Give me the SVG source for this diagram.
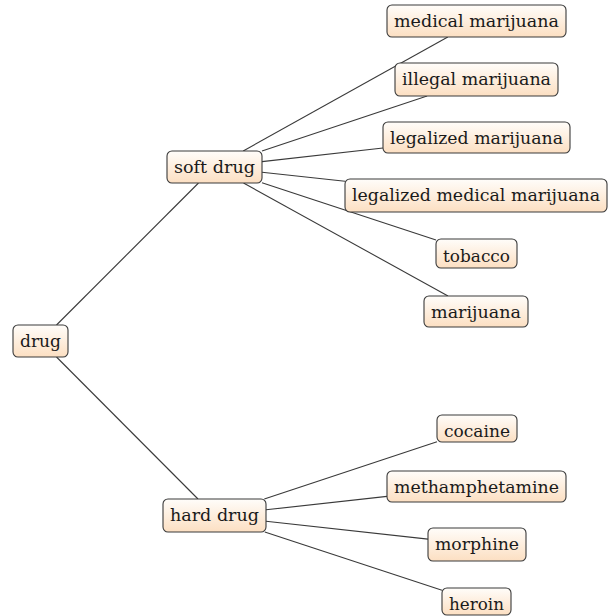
<svg xmlns="http://www.w3.org/2000/svg" width="609" height="616" viewBox="0 0 609 616">
<defs>
<linearGradient id="g" x1="0" y1="0" x2="0" y2="1">
<stop offset="0" stop-color="#fffdfa"/>
<stop offset="1" stop-color="#fcdfc2"/>
</linearGradient>
</defs>
<style>
.n rect{fill:url(#g);stroke:#3a3a3a;stroke-width:1.1}
.n text{font-family:'DejaVu Serif','Liberation Serif',serif;font-size:17.5px;fill:#1a1a1a;text-anchor:middle}
#edges line{stroke:#3a3a3a;stroke-width:1.1}
</style>
<rect width="609" height="616" fill="#ffffff"/>
<g id="edges">
<line x1="56.5" y1="325" x2="198.5" y2="183"/>
<line x1="56.5" y1="357" x2="198" y2="499"/>
<line x1="243.2" y1="151" x2="447.8" y2="37"/>
<line x1="262" y1="151.1" x2="427.1" y2="96"/>
<line x1="262" y1="161.6" x2="383" y2="148"/>
<line x1="262" y1="172.2" x2="345" y2="181.2"/>
<line x1="262" y1="182.7" x2="436" y2="240.1"/>
<line x1="243.5" y1="183" x2="448" y2="296"/>
<line x1="264.3" y1="499" x2="437" y2="441.8"/>
<line x1="266" y1="509.8" x2="387" y2="496.4"/>
<line x1="266" y1="521.2" x2="428" y2="539.1"/>
<line x1="264.8" y1="532" x2="442" y2="590.2"/>
</g>
<g id="drug" class="n"><rect x="13" y="325" width="55" height="32" rx="5"/><text x="40.5" y="347" textLength="41" lengthAdjust="spacingAndGlyphs">drug</text></g>
<g id="soft-drug" class="n"><rect x="167" y="151" width="95" height="32" rx="5"/><text x="214.5" y="173" textLength="81" lengthAdjust="spacingAndGlyphs">soft drug</text></g>
<g id="hard-drug" class="n"><rect x="163" y="499" width="103" height="33" rx="5"/><text x="214.5" y="521" textLength="89" lengthAdjust="spacingAndGlyphs">hard drug</text></g>
<g id="medical-marijuana" class="n"><rect x="387" y="5" width="179" height="32" rx="5"/><text x="476.5" y="27" textLength="165" lengthAdjust="spacingAndGlyphs">medical marijuana</text></g>
<g id="illegal-marijuana" class="n"><rect x="395" y="63" width="163" height="33" rx="5"/><text x="476.5" y="85" textLength="149" lengthAdjust="spacingAndGlyphs">illegal marijuana</text></g>
<g id="legalized-marijuana" class="n"><rect x="383" y="122" width="187" height="31" rx="5"/><text x="476.5" y="143.5" textLength="173" lengthAdjust="spacingAndGlyphs">legalized marijuana</text></g>
<g id="legalized-medical-marijuana" class="n"><rect x="345" y="179" width="262" height="33" rx="5"/><text x="476" y="201" textLength="248" lengthAdjust="spacingAndGlyphs" style="font-size:16px">legalized medical marijuana</text></g>
<g id="tobacco" class="n"><rect x="436" y="239" width="81" height="29" rx="5"/><text x="476.5" y="262" textLength="67" lengthAdjust="spacingAndGlyphs">tobacco</text></g>
<g id="marijuana" class="n"><rect x="424" y="296" width="104" height="31" rx="5"/><text x="476" y="318" textLength="90" lengthAdjust="spacingAndGlyphs">marijuana</text></g>
<g id="cocaine" class="n"><rect x="437" y="415" width="80" height="27" rx="5"/><text x="477" y="437" textLength="66" lengthAdjust="spacingAndGlyphs">cocaine</text></g>
<g id="methamphetamine" class="n"><rect x="387" y="471" width="179" height="31" rx="5"/><text x="476.5" y="493" textLength="165" lengthAdjust="spacingAndGlyphs">methamphetamine</text></g>
<g id="morphine" class="n"><rect x="428" y="528" width="98" height="33" rx="5"/><text x="477" y="550" textLength="84" lengthAdjust="spacingAndGlyphs">morphine</text></g>
<g id="heroin" class="n"><rect x="442" y="588" width="69" height="27" rx="5"/><text x="476.5" y="610" textLength="55" lengthAdjust="spacingAndGlyphs">heroin</text></g>
</svg>
